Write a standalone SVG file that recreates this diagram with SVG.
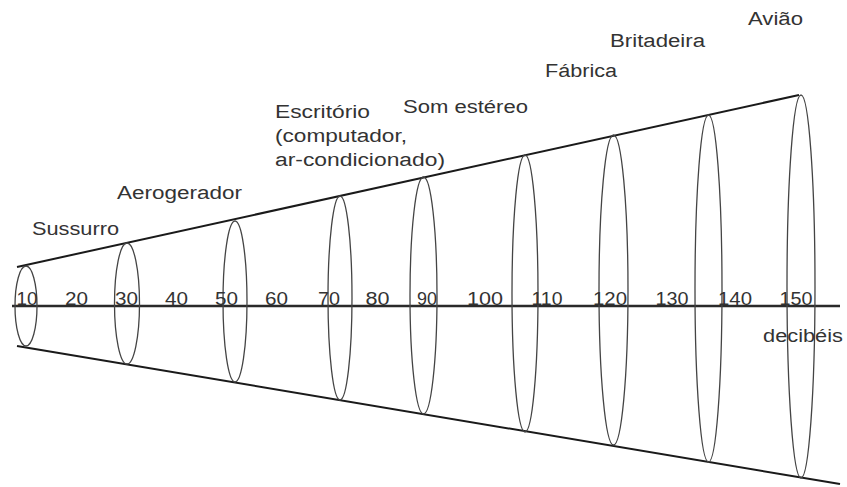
<svg xmlns="http://www.w3.org/2000/svg" width="847" height="487" viewBox="0 0 847 487">
<style>
.lbl{font-family:"Liberation Sans",Arial,sans-serif;font-size:18px;fill:#333}
.num{font-family:"Liberation Sans",Arial,sans-serif;font-size:18px;fill:#333;text-anchor:middle}
.ell{fill:none;stroke:#444;stroke-width:1.3}
.edge{stroke:#1a1a1a;stroke-width:2;fill:none}
.axis{stroke:#2a2a2a;stroke-width:2.6;fill:none}
</style>
<rect width="847" height="487" fill="#fff"/>
<g id="connectors">
<line class="edge" x1="17" y1="267" x2="799" y2="95"/>
<line class="edge" x1="17" y1="346" x2="840" y2="484"/>
<line class="axis" x1="12" y1="306" x2="840" y2="306"/>
</g>
<g id="ellipses">
<ellipse class="ell" cx="26" cy="306" rx="11" ry="40"/>
<ellipse class="ell" cx="127" cy="303.5" rx="12.5" ry="60.5"/>
<ellipse class="ell" cx="235" cy="301.5" rx="12" ry="80.5"/>
<ellipse class="ell" cx="340" cy="298" rx="12" ry="102"/>
<ellipse class="ell" cx="423.5" cy="295.5" rx="13.5" ry="118.5"/>
<ellipse class="ell" cx="525" cy="293.5" rx="13" ry="138.5"/>
<ellipse class="ell" cx="613.5" cy="290" rx="14.5" ry="155"/>
<ellipse class="ell" cx="708.5" cy="288.5" rx="13.5" ry="173.5"/>
<ellipse class="ell" cx="801" cy="286.5" rx="14" ry="191.5"/>
</g>
<g id="scale">
<text class="num" x="27" y="305" textLength="21" lengthAdjust="spacingAndGlyphs">10</text>
<text class="num" x="76.5" y="305" textLength="23" lengthAdjust="spacingAndGlyphs">20</text>
<text class="num" x="126.5" y="305" textLength="23" lengthAdjust="spacingAndGlyphs">30</text>
<text class="num" x="176.5" y="305" textLength="23" lengthAdjust="spacingAndGlyphs">40</text>
<text class="num" x="226.5" y="305" textLength="23" lengthAdjust="spacingAndGlyphs">50</text>
<text class="num" x="276.5" y="305" textLength="23" lengthAdjust="spacingAndGlyphs">60</text>
<text class="num" x="329" y="305" textLength="22" lengthAdjust="spacingAndGlyphs">70</text>
<text class="num" x="377.5" y="305" textLength="24" lengthAdjust="spacingAndGlyphs">80</text>
<text class="num" x="427" y="305" textLength="20" lengthAdjust="spacingAndGlyphs">90</text>
<text class="num" x="485" y="305" textLength="36" lengthAdjust="spacingAndGlyphs">100</text>
<text class="num" x="547" y="305" textLength="31" lengthAdjust="spacingAndGlyphs">110</text>
<text class="num" x="610" y="305" textLength="34" lengthAdjust="spacingAndGlyphs">120</text>
<text class="num" x="672" y="305" textLength="33" lengthAdjust="spacingAndGlyphs">130</text>
<text class="num" x="735" y="305" textLength="34" lengthAdjust="spacingAndGlyphs">140</text>
<text class="num" x="796" y="305" textLength="33" lengthAdjust="spacingAndGlyphs">150</text>
<text class="lbl" x="763" y="342" textLength="80" lengthAdjust="spacingAndGlyphs">decibéis</text>
</g>
<g id="sussurro"><text class="lbl" x="32" y="235" textLength="87" lengthAdjust="spacingAndGlyphs">Sussurro</text></g>
<g id="aerogerador"><text class="lbl" x="117" y="199" textLength="125" lengthAdjust="spacingAndGlyphs">Aerogerador</text></g>
<g id="escritorio">
<text class="lbl" x="275" y="118" textLength="95" lengthAdjust="spacingAndGlyphs">Escritório</text>
<text class="lbl" x="275" y="142" textLength="132" lengthAdjust="spacingAndGlyphs">(computador,</text>
<text class="lbl" x="275" y="166" textLength="170" lengthAdjust="spacingAndGlyphs">ar-condicionado)</text>
</g>
<g id="som"><text class="lbl" x="403" y="113" textLength="125" lengthAdjust="spacingAndGlyphs">Som estéreo</text></g>
<g id="fabrica"><text class="lbl" x="545" y="77" textLength="72" lengthAdjust="spacingAndGlyphs">Fábrica</text></g>
<g id="britadeira"><text class="lbl" x="610" y="47" textLength="95" lengthAdjust="spacingAndGlyphs">Britadeira</text></g>
<g id="aviao"><text class="lbl" x="748" y="25" textLength="55" lengthAdjust="spacingAndGlyphs">Avião</text></g>
</svg>
